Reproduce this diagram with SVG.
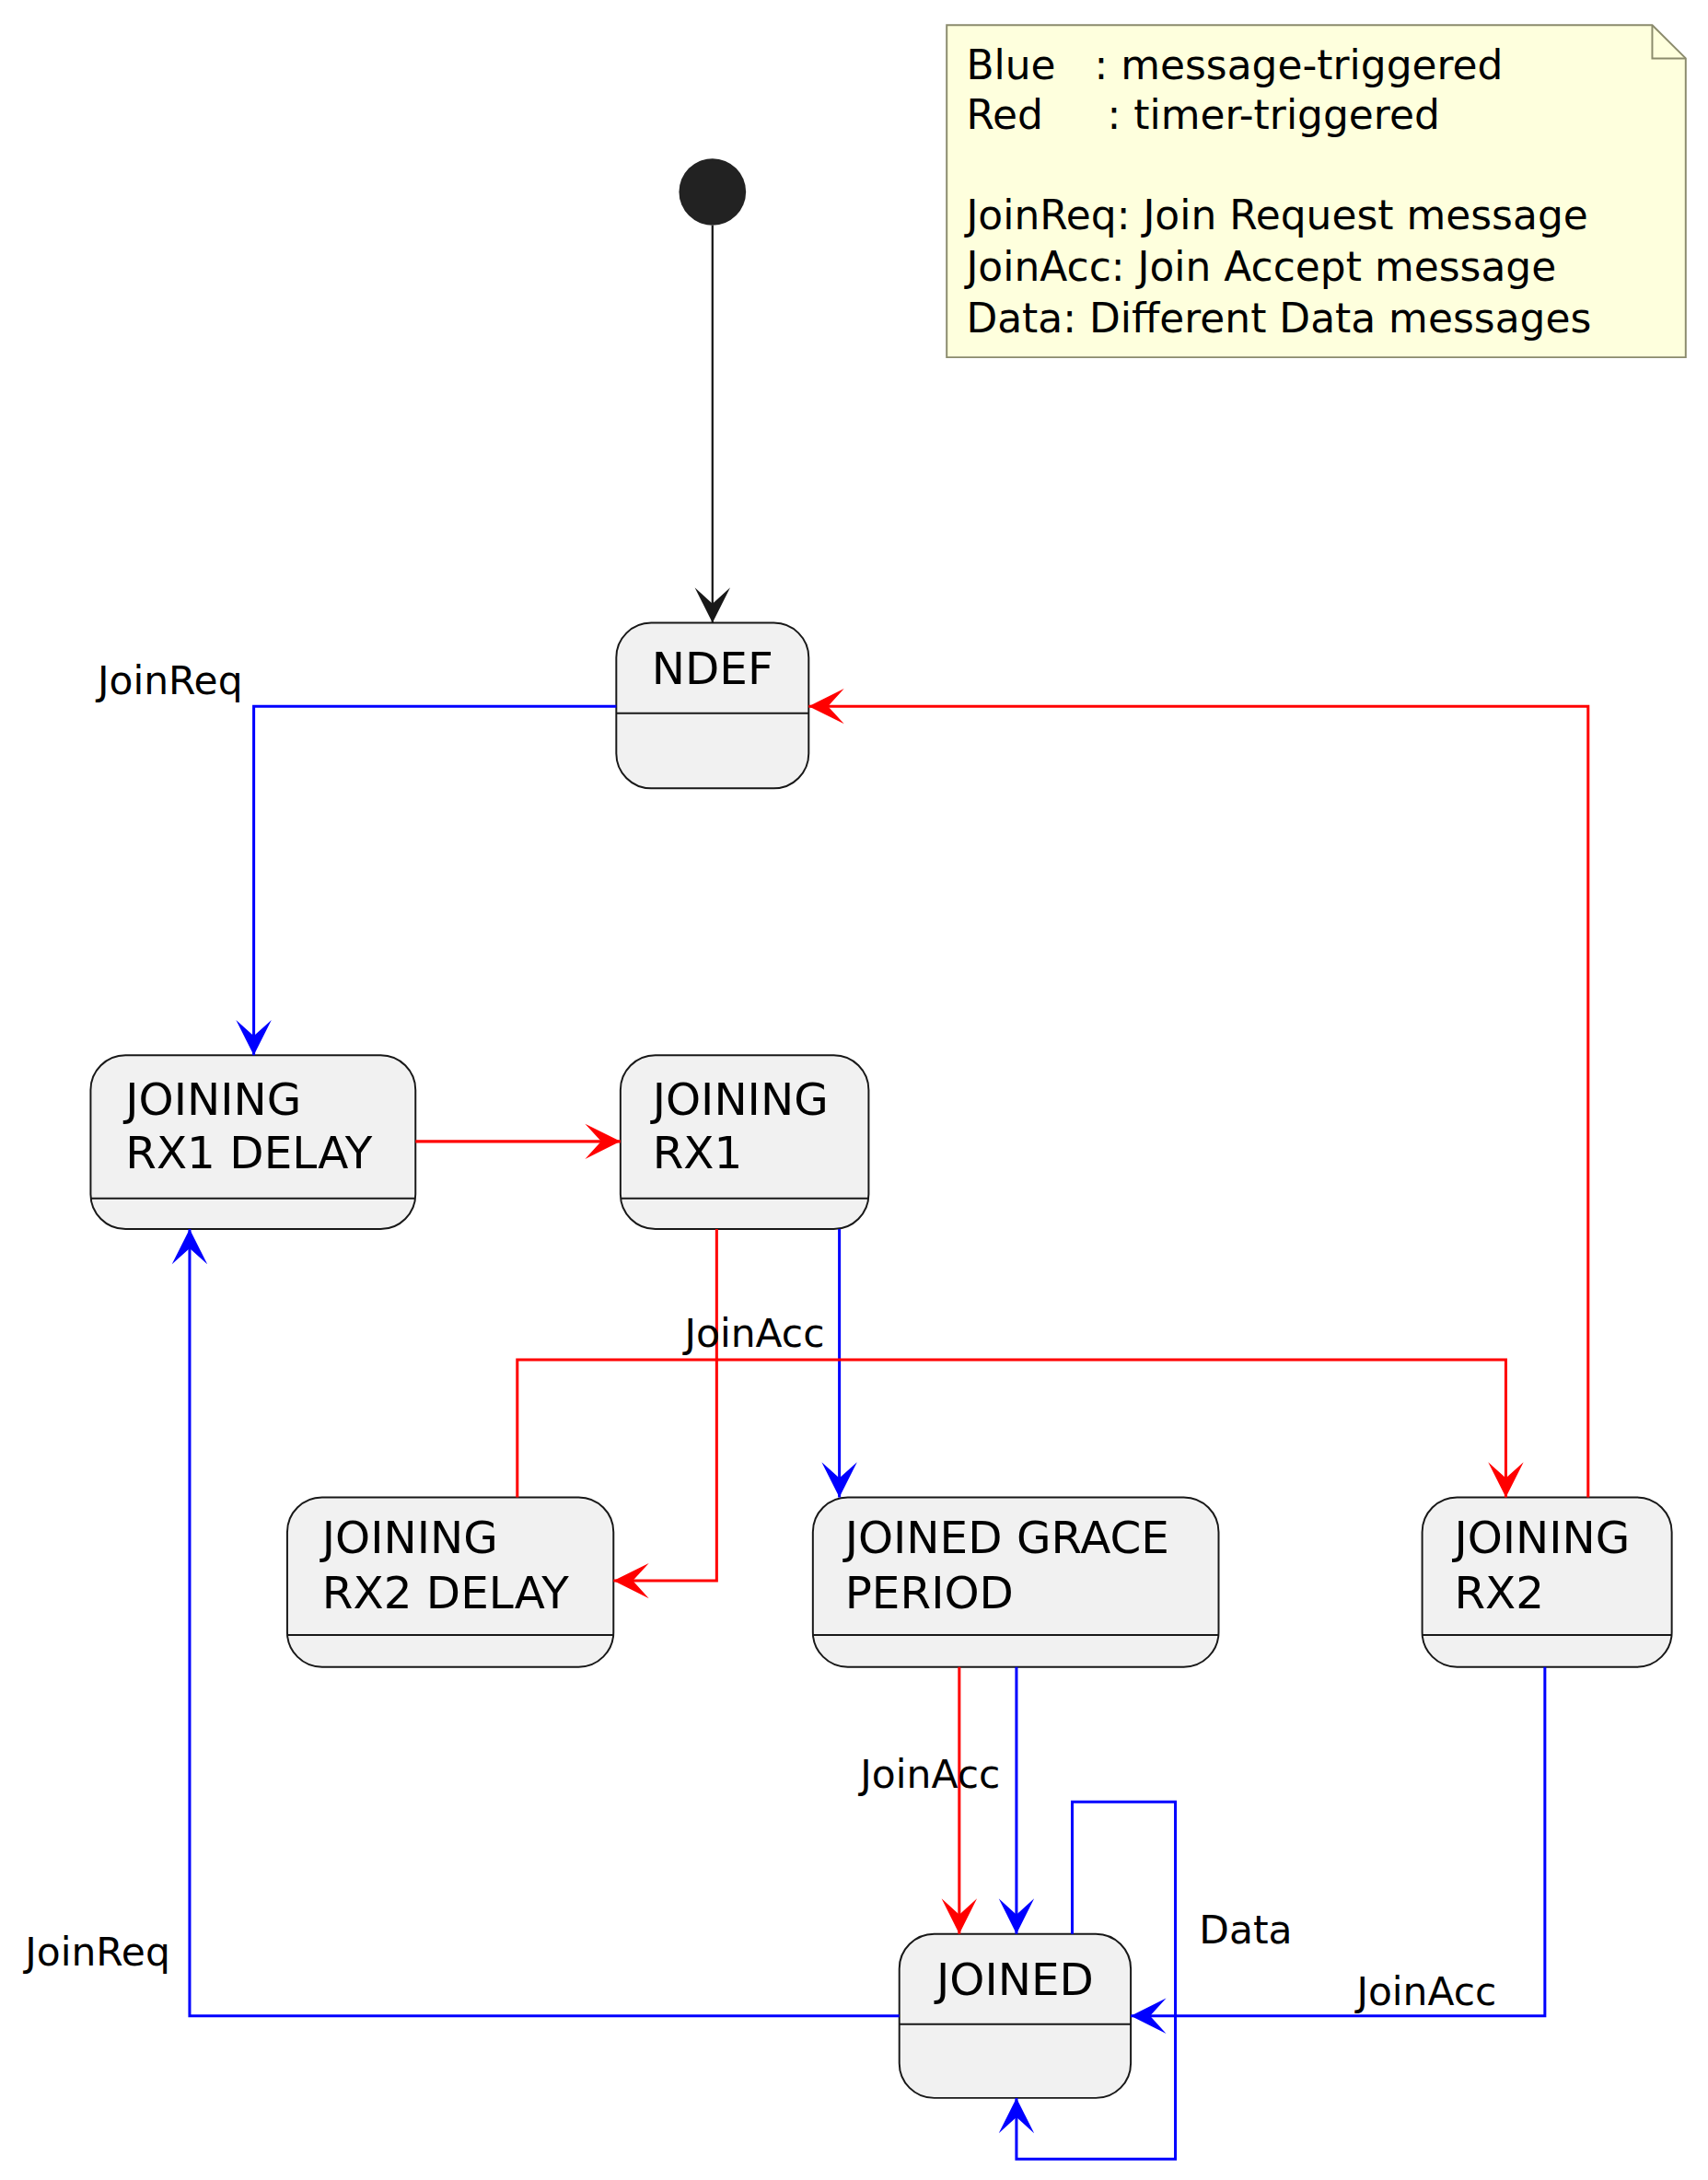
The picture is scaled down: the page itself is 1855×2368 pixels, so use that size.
<svg xmlns="http://www.w3.org/2000/svg" width="1855" height="2368" viewBox="0 0 1855 2368">
<style>
.st{fill:#f1f1f1;stroke:#181818;stroke-width:1.3}
.dv{stroke:#181818;stroke-width:1.3}
.t{font-family:"DejaVu Sans",sans-serif;fill:#000}
.sn{font-size:32px}
.lb{font-size:28px}
.nt{font-size:29px}
.b{fill:none;stroke:#0000ff;stroke-width:2}
.r{fill:none;stroke:#ff0000;stroke-width:2}
.k{fill:none;stroke:#181818;stroke-width:1.5}
</style>
<defs>
<marker id="ab" markerUnits="userSpaceOnUse" markerWidth="30" markerHeight="30" refX="0" refY="0" viewBox="-24 -13 26 26" orient="auto"><path d="M0,0 L-22,-11 L-12,0 L-22,11 Z" fill="#0000ff"/></marker>
<marker id="ar" markerUnits="userSpaceOnUse" markerWidth="30" markerHeight="30" refX="0" refY="0" viewBox="-24 -13 26 26" orient="auto"><path d="M0,0 L-22,-11 L-12,0 L-22,11 Z" fill="#ff0000"/></marker>
<marker id="ak" markerUnits="userSpaceOnUse" markerWidth="30" markerHeight="30" refX="0" refY="0" viewBox="-24 -13 26 26" orient="auto"><path d="M0,0 L-22,-11 L-12,0 L-22,11 Z" fill="#181818"/></marker>
</defs>
<rect width="1855" height="2368" fill="#fff"/>
<g transform="scale(1.5143,1.5102)">
<g id="note">
<path d="M679,18 H1185 L1209,42 V257 H679 Z" fill="#feffdd" stroke="#8b8b6d" stroke-width="1.3"/>
<path d="M1185,18 V42 H1209" fill="none" stroke="#8b8b6d" stroke-width="1.3"/>
<text class="t nt" x="693" y="57" xml:space="preserve">Blue   : message-triggered</text>
<text class="t nt" x="693" y="93" xml:space="preserve">Red     : timer-triggered</text>
<text class="t nt" x="693" y="165">JoinReq: Join Request message</text>
<text class="t nt" x="693" y="202">JoinAcc: Join Accept message</text>
<text class="t nt" x="693" y="239">Data: Different Data messages</text>
</g>
<g id="start"><circle cx="511" cy="138" r="24" fill="#222"/></g>
<g id="NDEF"><rect class="st" x="442" y="448" width="138" height="119" rx="25"/><line class="dv" x1="442" y1="513" x2="580" y2="513"/><text class="t sn" x="511" y="492" text-anchor="middle">NDEF</text></g>
<g id="RX1DELAY"><rect class="st" x="65" y="759" width="233" height="125" rx="25"/><line class="dv" x1="65" y1="862" x2="298" y2="862"/><text class="t sn" x="90" y="802">JOINING</text><text class="t sn" x="90" y="840">RX1 DELAY</text></g>
<g id="RX1"><rect class="st" x="445" y="759" width="178" height="125" rx="25"/><line class="dv" x1="445" y1="862" x2="623" y2="862"/><text class="t sn" x="468" y="802">JOINING</text><text class="t sn" x="468" y="840">RX1</text></g>
<g id="RX2DELAY"><rect class="st" x="206" y="1077" width="234" height="122" rx="25"/><line class="dv" x1="206" y1="1176" x2="440" y2="1176"/><text class="t sn" x="231" y="1117">JOINING</text><text class="t sn" x="231" y="1157">RX2 DELAY</text></g>
<g id="GRACE"><rect class="st" x="583" y="1077" width="291" height="122" rx="25"/><line class="dv" x1="583" y1="1176" x2="874" y2="1176"/><text class="t sn" x="606" y="1117">JOINED GRACE</text><text class="t sn" x="606" y="1157">PERIOD</text></g>
<g id="RX2"><rect class="st" x="1020" y="1077" width="179" height="122" rx="25"/><line class="dv" x1="1020" y1="1176" x2="1199" y2="1176"/><text class="t sn" x="1043" y="1117">JOINING</text><text class="t sn" x="1043" y="1157">RX2</text></g>
<g id="JOINED"><rect class="st" x="645" y="1391" width="166" height="118" rx="25"/><line class="dv" x1="645" y1="1456" x2="811" y2="1456"/><text class="t sn" x="728" y="1435" text-anchor="middle">JOINED</text></g>
<g id="connectors">
<path class="k" d="M511,162 V448" marker-end="url(#ak)"/>
<path class="b" d="M442,508 H182 V759" marker-end="url(#ab)"/>
<path class="r" d="M1139,1077 V508 H580" marker-end="url(#ar)"/>
<path class="r" d="M298,821 H445" marker-end="url(#ar)"/>
<path class="r" d="M514,884 V1137 H440" marker-end="url(#ar)"/>
<path class="b" d="M602,884 V1077" marker-end="url(#ab)"/>
<path class="r" d="M371,1077 V978 H1080 V1077" marker-end="url(#ar)"/>
<path class="r" d="M688,1199 V1391" marker-end="url(#ar)"/>
<path class="b" d="M729,1199 V1391" marker-end="url(#ab)"/>
<path class="b" d="M769,1391 V1296 H843 V1553 H729 V1509" marker-end="url(#ab)"/>
<path class="b" d="M1108,1199 V1450 H811" marker-end="url(#ab)"/>
<path class="b" d="M645,1450 H136 V884" marker-end="url(#ab)"/>
<text class="t lb" x="70" y="499">JoinReq</text>
<text class="t lb" x="491" y="969">JoinAcc</text>
<text class="t lb" x="617" y="1286">JoinAcc</text>
<text class="t lb" x="860" y="1398">Data</text>
<text class="t lb" x="973" y="1442">JoinAcc</text>
<text class="t lb" x="18" y="1414">JoinReq</text>
</g>
</g>
</svg>
